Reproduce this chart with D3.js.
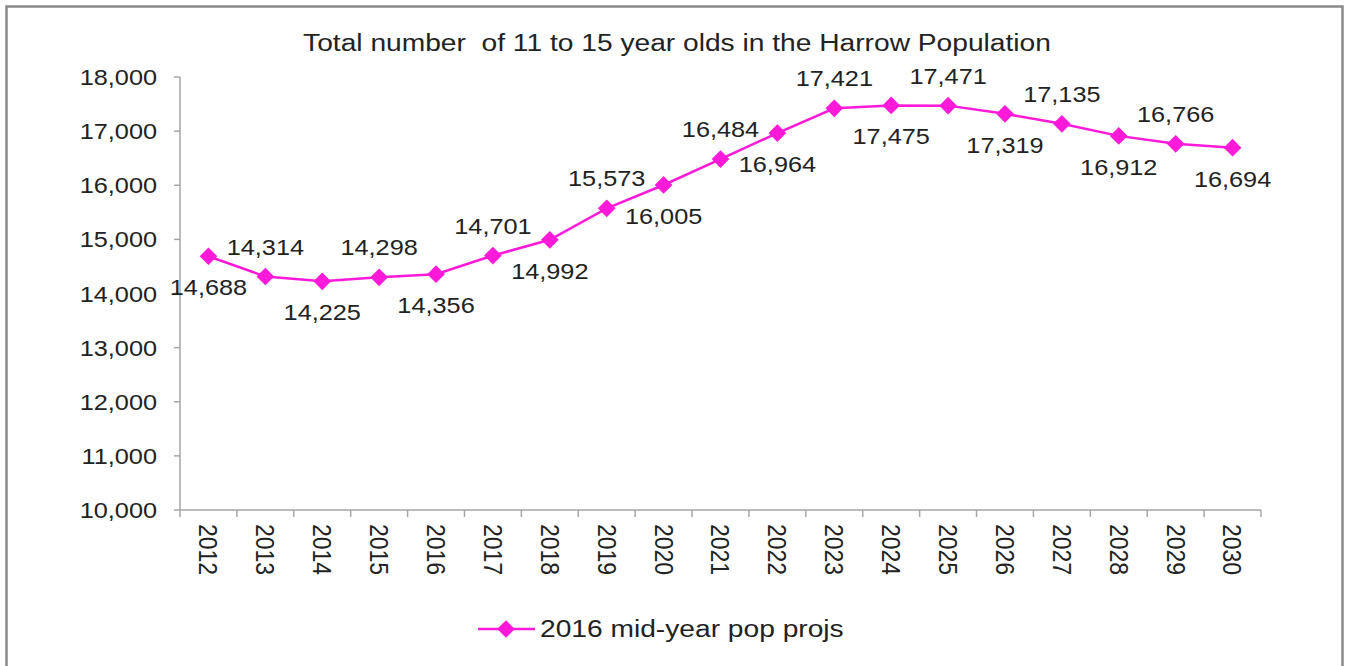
<!DOCTYPE html>
<html>
<head>
<meta charset="utf-8">
<script src="https://cdn.jsdelivr.net/npm/d3@7"></script>
<style>
  body { margin: 0; background: #fff; }
  text { font-family: "Liberation Sans", Arial, sans-serif; fill: #222; }
</style>
</head>
<body>
<div id="chart"></div>
<script>
// chart data
var years = ["2012", "2013", "2014", "2015", "2016", "2017", "2018", "2019", "2020", "2021",
  "2022", "2023", "2024", "2025", "2026", "2027", "2028", "2029", "2030"];
var pupils = [14688, 14314, 14225, 14298, 14356, 14701, 14992, 15573, 16005, 16484,
  16964, 17421, 17475, 17471, 17319, 17135, 16912, 16766, 16694];
var yTicks = [10000, 11000, 12000, 13000, 14000, 15000, 16000, 17000, 18000];
var titleText = "Total number  of 11 to 15 year olds in the Harrow Population";
var seriesName = "2016 mid-year pop projs";

var svgWidth = 1345;
var svgHeight = 666;
var stretch = 1.15; // text in the source looks a bit wide
var pink = "#ff1ad9";
var axisGrey = "#a6a6a6";

var svg = d3.select("#chart")
  .append("svg")
  .attr("width", svgWidth)
  .attr("height", svgHeight);

// outer frame
svg.append("rect")
  .attr("x", 6.5).attr("y", 6.5)
  .attr("width", 1336).attr("height", 720)
  .attr("fill", "none")
  .attr("stroke", "#8a8a8a")
  .attr("stroke-width", 2.5);

var plot = { left: 180, right: 1261, top: 77, bottom: 510 };

var xScale = d3.scaleBand()
  .domain(years)
  .range([plot.left, plot.right]);

var yScale = d3.scaleLinear()
  .domain([10000, 18000])
  .range([plot.bottom, plot.top]);

var fmt = d3.format(",");

// helper for stretched text
function stretchedText(sel, x, y, rot) {
  return sel.attr("transform", "translate(" + x + "," + y + ") scale(" + stretch + ",1)" + (rot ? " rotate(" + rot + ")" : ""));
}

// title
stretchedText(svg.append("text"), 677, 51)
  .attr("text-anchor", "middle")
  .style("font-size", "24.5px")
  .style("white-space", "pre")
  .text(titleText);

// y axis
var yAxis = svg.append("g").attr("transform", "translate(" + plot.left + ",0)");
yAxis.append("line")
  .attr("x1", 0).attr("x2", 0)
  .attr("y1", yScale(18000)).attr("y2", yScale(10000))
  .attr("stroke", axisGrey).attr("stroke-width", 1.5);
yAxis.selectAll(".ytick")
  .data(yTicks)
  .enter().append("line")
  .attr("x1", -6).attr("x2", 0)
  .attr("y1", d => yScale(d)).attr("y2", d => yScale(d))
  .attr("stroke", axisGrey).attr("stroke-width", 1.5);
yTicks.forEach(function(t) {
  stretchedText(svg.append("text"), 157, yScale(t) + 8)
    .attr("text-anchor", "end")
    .style("font-size", "22px")
    .text(fmt(t));
});

// x axis
var xAxis = svg.append("g");
xAxis.append("line")
  .attr("x1", plot.left).attr("x2", plot.right)
  .attr("y1", plot.bottom).attr("y2", plot.bottom)
  .attr("stroke", axisGrey).attr("stroke-width", 1.5);
var xEdges = years.map(d => xScale(d)).concat([plot.right]);
xAxis.selectAll(".xtick")
  .data(xEdges)
  .enter().append("line")
  .attr("x1", d => d).attr("x2", d => d)
  .attr("y1", plot.bottom).attr("y2", plot.bottom + 7)
  .attr("stroke", axisGrey).attr("stroke-width", 1.5);
years.forEach(function(y) {
  stretchedText(svg.append("text"), xScale(y) + xScale.bandwidth() / 2, 524, 90)
    .attr("dominant-baseline", "central")
    .style("font-size", "23px")
    .text(y);
});

// line
var points = years.map((y, i) => ({ year: y, value: pupils[i], i: i }));
var line = d3.line()
  .x(d => xScale(d.year) + xScale.bandwidth() / 2)
  .y(d => yScale(d.value));

svg.append("path")
  .attr("d", line(points))
  .attr("fill", "none")
  .attr("stroke", pink)
  .attr("stroke-width", 2.5);

var diamond = d3.symbol().type(d3.symbolDiamond2).size(200);
svg.selectAll(".marker")
  .data(points)
  .enter().append("path")
  .attr("d", diamond)
  .attr("transform", d => "translate(" + (xScale(d.year) + xScale.bandwidth() / 2) + "," + yScale(d.value) + ")")
  .attr("fill", pink);

// data labels, alternating below / above
points.forEach(function(d) {
  var cx = xScale(d.year) + xScale.bandwidth() / 2;
  var cy = yScale(d.value) + (d.i % 2 === 0 ? 39 : -22);
  stretchedText(svg.append("text"), cx, cy)
    .attr("text-anchor", "middle")
    .style("font-size", "22px")
    .text(fmt(d.value));
});

// legend
var legend = svg.append("g");
legend.append("line")
  .attr("x1", 478).attr("x2", 535)
  .attr("y1", 629).attr("y2", 629)
  .attr("stroke", pink).attr("stroke-width", 2.5);
legend.append("path")
  .attr("d", diamond)
  .attr("transform", "translate(506,629)")
  .attr("fill", pink);
stretchedText(legend.append("text"), 540, 637)
  .style("font-size", "24.5px")
  .text(seriesName);
</script>
</body>
</html>
